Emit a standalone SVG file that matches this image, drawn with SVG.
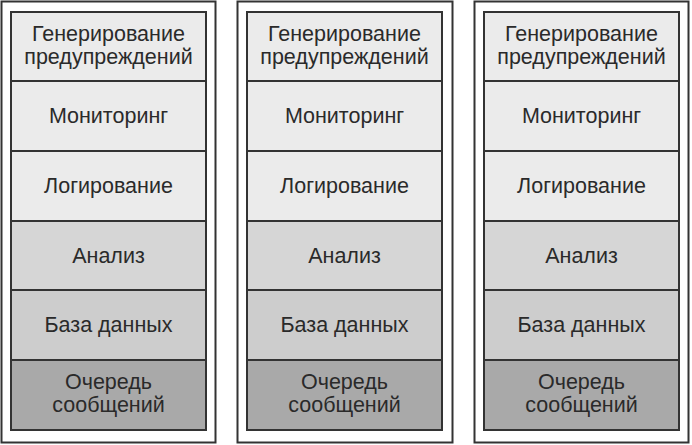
<svg xmlns="http://www.w3.org/2000/svg" width="692" height="445" viewBox="0 0 692 445">
<style>
.outer{fill:#fff;stroke:#333;stroke-width:2}
.r{stroke:#333;stroke-width:2}
.l1{fill:#ebebeb}.l2{fill:#d6d6d6}.l3{fill:#cdcdcd}.l4{fill:#a9a9a9}
text{font-family:"Liberation Sans",Arial,sans-serif;font-size:21.5px;fill:#2a2a2a;text-anchor:middle}
</style>
<rect width="692" height="445" fill="#fff"/>
<g id="col1">
<rect class="outer" x="1.5" y="1.5" width="214" height="441"/>
<g id="c1n1"><rect class="r l1" x="11" y="12" width="195" height="69"/><text x="108.5" y="41">Генерирование</text><text x="108.5" y="64">предупреждений</text></g>
<g id="c1n2"><rect class="r l1" x="11" y="81" width="195" height="70"/><text x="108.5" y="123">Мониторинг</text></g>
<g id="c1n3"><rect class="r l1" x="11" y="151" width="195" height="70"/><text x="108.5" y="193">Логирование</text></g>
<g id="c1n4"><rect class="r l2" x="11" y="221" width="195" height="69"/><text x="108.5" y="263">Анализ</text></g>
<g id="c1n5"><rect class="r l3" x="11" y="290" width="195" height="70"/><text x="108.5" y="332">База данных</text></g>
<g id="c1n6"><rect class="r l4" x="11" y="360" width="195" height="70"/><text x="108.5" y="389">Очередь</text><text x="108.5" y="412">сообщений</text></g>
</g>
<g id="col2">
<rect class="outer" x="237.5" y="1.5" width="215" height="441"/>
<g id="c2n1"><rect class="r l1" x="247" y="12" width="195" height="69"/><text x="344.5" y="41">Генерирование</text><text x="344.5" y="64">предупреждений</text></g>
<g id="c2n2"><rect class="r l1" x="247" y="81" width="195" height="70"/><text x="344.5" y="123">Мониторинг</text></g>
<g id="c2n3"><rect class="r l1" x="247" y="151" width="195" height="70"/><text x="344.5" y="193">Логирование</text></g>
<g id="c2n4"><rect class="r l2" x="247" y="221" width="195" height="69"/><text x="344.5" y="263">Анализ</text></g>
<g id="c2n5"><rect class="r l3" x="247" y="290" width="195" height="70"/><text x="344.5" y="332">База данных</text></g>
<g id="c2n6"><rect class="r l4" x="247" y="360" width="195" height="70"/><text x="344.5" y="389">Очередь</text><text x="344.5" y="412">сообщений</text></g>
</g>
<g id="col3">
<rect class="outer" x="474.5" y="1.5" width="214" height="441"/>
<g id="c3n1"><rect class="r l1" x="484" y="12" width="195" height="69"/><text x="581.5" y="41">Генерирование</text><text x="581.5" y="64">предупреждений</text></g>
<g id="c3n2"><rect class="r l1" x="484" y="81" width="195" height="70"/><text x="581.5" y="123">Мониторинг</text></g>
<g id="c3n3"><rect class="r l1" x="484" y="151" width="195" height="70"/><text x="581.5" y="193">Логирование</text></g>
<g id="c3n4"><rect class="r l2" x="484" y="221" width="195" height="69"/><text x="581.5" y="263">Анализ</text></g>
<g id="c3n5"><rect class="r l3" x="484" y="290" width="195" height="70"/><text x="581.5" y="332">База данных</text></g>
<g id="c3n6"><rect class="r l4" x="484" y="360" width="195" height="70"/><text x="581.5" y="389">Очередь</text><text x="581.5" y="412">сообщений</text></g>
</g>
<g id="connectors"/>
</svg>
